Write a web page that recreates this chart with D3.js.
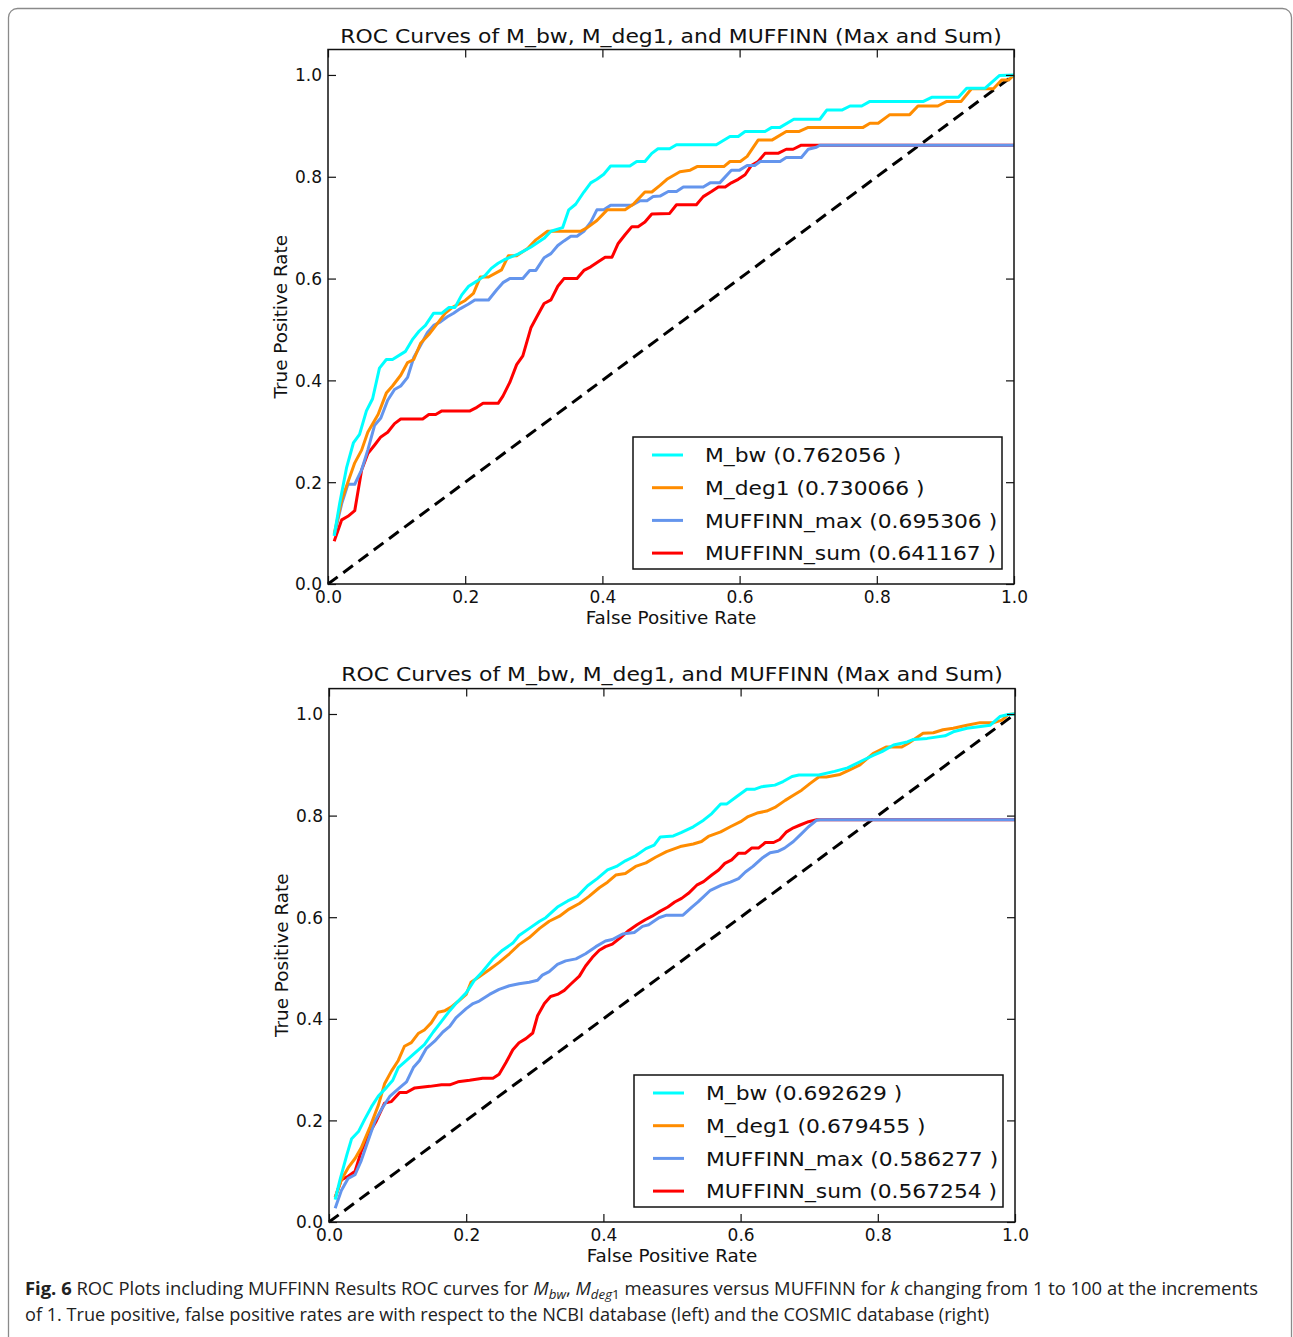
<!DOCTYPE html>
<html>
<head>
<meta charset="utf-8">
<script src="https://cdn.jsdelivr.net/npm/d3@7"></script>
<style>
  html, body { margin: 0; padding: 0; background: #fff; }
  svg { display: block; }
  .tick text { font-family: "DejaVu Sans", sans-serif; font-size: 17px; fill: #111; }
</style>
</head>
<body>
<svg id="fig" width="1293" height="1337"></svg>
<script>
(function() {

  // ---- data ----
  const tickValues = [0, 0.2, 0.4, 0.6, 0.8, 1.0]
  const seriesNames = ['M_bw', 'M_deg1', 'MUFFINN_max', 'MUFFINN_sum']
  const seriesColors = ['#00ffff', '#ff8c00', '#6495ed', '#ff0000']
  const topAuc = ['0.762056', '0.730066', '0.695306', '0.641167']
  const bottomAuc = ['0.692629', '0.679455', '0.586277', '0.567254']
  const diagonal = [[0, 0], [1, 1]]

  const topBw = [[0.009,0.095],[0.017,0.158],[0.027,0.228],[0.037,0.277],[0.046,0.294],[0.056,0.34],[0.065,0.364],[0.075,0.424],[0.085,0.441],[0.094,0.441],[0.113,0.457],[0.123,0.48],[0.133,0.497],[0.142,0.508],[0.154,0.532],[0.166,0.532],[0.176,0.543],[0.185,0.543],[0.195,0.568],[0.205,0.585],[0.217,0.595],[0.229,0.606],[0.238,0.62],[0.248,0.63],[0.257,0.637],[0.277,0.648],[0.296,0.662],[0.315,0.679],[0.325,0.693],[0.342,0.7],[0.351,0.735],[0.361,0.746],[0.373,0.77],[0.383,0.788],[0.392,0.795],[0.402,0.805],[0.412,0.821],[0.44,0.821],[0.45,0.83],[0.462,0.83],[0.472,0.846],[0.481,0.855],[0.498,0.855],[0.508,0.863],[0.566,0.863],[0.586,0.879],[0.598,0.879],[0.608,0.889],[0.637,0.889],[0.647,0.897],[0.659,0.897],[0.679,0.913],[0.717,0.913],[0.727,0.931],[0.749,0.931],[0.761,0.939],[0.778,0.939],[0.79,0.948],[0.868,0.948],[0.88,0.956],[0.919,0.956],[0.931,0.974],[0.958,0.974],[0.979,0.999],[1.0,1.0]]
  const topDeg1 = [[0.009,0.098],[0.02,0.165],[0.029,0.2],[0.039,0.238],[0.049,0.263],[0.058,0.298],[0.073,0.333],[0.085,0.375],[0.094,0.389],[0.106,0.41],[0.116,0.435],[0.125,0.441],[0.135,0.473],[0.147,0.49],[0.159,0.511],[0.171,0.532],[0.181,0.543],[0.2,0.557],[0.212,0.571],[0.222,0.603],[0.234,0.603],[0.253,0.617],[0.263,0.645],[0.275,0.645],[0.291,0.659],[0.303,0.676],[0.32,0.693],[0.368,0.693],[0.378,0.7],[0.392,0.714],[0.407,0.735],[0.433,0.735],[0.445,0.746],[0.462,0.77],[0.472,0.77],[0.484,0.783],[0.494,0.795],[0.513,0.81],[0.528,0.813],[0.538,0.82],[0.577,0.82],[0.586,0.83],[0.601,0.83],[0.611,0.84],[0.627,0.872],[0.647,0.872],[0.668,0.889],[0.687,0.889],[0.7,0.897],[0.78,0.897],[0.79,0.905],[0.802,0.905],[0.819,0.922],[0.848,0.922],[0.86,0.939],[0.889,0.939],[0.902,0.948],[0.923,0.948],[0.938,0.973],[0.97,0.973],[0.982,0.99],[0.992,0.99],[1.0,1.0]]
  const topMax = [[0.009,0.095],[0.02,0.158],[0.029,0.196],[0.039,0.196],[0.049,0.224],[0.058,0.263],[0.068,0.312],[0.077,0.326],[0.087,0.361],[0.097,0.382],[0.106,0.389],[0.116,0.406],[0.125,0.445],[0.135,0.469],[0.145,0.494],[0.154,0.508],[0.164,0.515],[0.174,0.525],[0.183,0.532],[0.193,0.541],[0.205,0.55],[0.214,0.558],[0.234,0.558],[0.246,0.578],[0.255,0.592],[0.265,0.6],[0.284,0.6],[0.294,0.616],[0.303,0.616],[0.315,0.641],[0.325,0.649],[0.335,0.665],[0.344,0.674],[0.354,0.683],[0.363,0.683],[0.373,0.693],[0.383,0.711],[0.392,0.735],[0.402,0.735],[0.412,0.744],[0.443,0.744],[0.455,0.753],[0.465,0.753],[0.474,0.761],[0.484,0.762],[0.496,0.771],[0.508,0.771],[0.518,0.78],[0.547,0.78],[0.557,0.788],[0.571,0.788],[0.588,0.813],[0.6,0.813],[0.611,0.822],[0.622,0.822],[0.63,0.83],[0.659,0.83],[0.668,0.838],[0.69,0.838],[0.7,0.854],[0.712,0.858],[0.717,0.862],[1.0,0.862]]
  const topSum = [[0.009,0.084],[0.02,0.126],[0.029,0.133],[0.039,0.144],[0.049,0.224],[0.058,0.256],[0.068,0.273],[0.077,0.289],[0.087,0.298],[0.097,0.315],[0.106,0.324],[0.138,0.324],[0.147,0.333],[0.157,0.333],[0.166,0.34],[0.207,0.34],[0.217,0.347],[0.226,0.355],[0.248,0.355],[0.255,0.369],[0.265,0.396],[0.275,0.431],[0.284,0.448],[0.296,0.504],[0.306,0.529],[0.315,0.551],[0.325,0.558],[0.335,0.585],[0.344,0.6],[0.363,0.6],[0.373,0.616],[0.383,0.623],[0.395,0.634],[0.404,0.642],[0.414,0.642],[0.423,0.669],[0.433,0.686],[0.443,0.702],[0.452,0.702],[0.462,0.711],[0.472,0.727],[0.498,0.728],[0.508,0.745],[0.537,0.745],[0.547,0.761],[0.559,0.771],[0.569,0.78],[0.579,0.78],[0.588,0.788],[0.598,0.795],[0.608,0.804],[0.617,0.822],[0.627,0.83],[0.637,0.846],[0.656,0.846],[0.668,0.854],[0.678,0.854],[0.69,0.862],[1.0,0.862]]

  const bottomBw = [[0.009,0.044],[0.016,0.083],[0.026,0.132],[0.033,0.164],[0.043,0.178],[0.052,0.202],[0.062,0.227],[0.072,0.248],[0.084,0.265],[0.093,0.279],[0.101,0.304],[0.113,0.318],[0.127,0.335],[0.139,0.349],[0.152,0.374],[0.164,0.395],[0.176,0.416],[0.185,0.43],[0.2,0.451],[0.212,0.476],[0.224,0.493],[0.239,0.518],[0.253,0.535],[0.268,0.549],[0.277,0.564],[0.292,0.578],[0.307,0.592],[0.316,0.599],[0.333,0.62],[0.348,0.632],[0.362,0.641],[0.377,0.662],[0.391,0.676],[0.406,0.693],[0.419,0.7],[0.432,0.711],[0.447,0.721],[0.462,0.735],[0.474,0.742],[0.483,0.758],[0.502,0.76],[0.514,0.767],[0.531,0.778],[0.546,0.791],[0.558,0.804],[0.571,0.823],[0.58,0.823],[0.594,0.837],[0.609,0.852],[0.621,0.852],[0.631,0.857],[0.65,0.86],[0.662,0.867],[0.675,0.877],[0.685,0.88],[0.714,0.88],[0.737,0.887],[0.756,0.894],[0.774,0.906],[0.794,0.919],[0.806,0.926],[0.823,0.939],[0.843,0.945],[0.852,0.95],[0.872,0.952],[0.898,0.957],[0.91,0.965],[0.93,0.972],[0.964,0.978],[0.978,0.995],[0.99,0.999],[1.0,1.0]]
  const bottomDeg1 = [[0.009,0.048],[0.018,0.083],[0.028,0.107],[0.038,0.125],[0.047,0.146],[0.06,0.188],[0.072,0.23],[0.081,0.272],[0.091,0.297],[0.101,0.318],[0.11,0.346],[0.12,0.353],[0.13,0.371],[0.139,0.378],[0.149,0.392],[0.159,0.413],[0.169,0.416],[0.178,0.423],[0.188,0.434],[0.2,0.448],[0.207,0.472],[0.219,0.483],[0.234,0.497],[0.248,0.511],[0.263,0.528],[0.277,0.546],[0.292,0.56],[0.307,0.578],[0.321,0.592],[0.336,0.602],[0.35,0.616],[0.365,0.627],[0.379,0.641],[0.394,0.658],[0.406,0.669],[0.418,0.683],[0.432,0.686],[0.447,0.7],[0.462,0.707],[0.476,0.718],[0.492,0.729],[0.512,0.739],[0.531,0.744],[0.543,0.749],[0.553,0.759],[0.571,0.768],[0.585,0.778],[0.6,0.788],[0.611,0.798],[0.624,0.805],[0.638,0.809],[0.65,0.816],[0.665,0.83],[0.677,0.84],[0.689,0.85],[0.701,0.863],[0.714,0.876],[0.725,0.876],[0.745,0.881],[0.759,0.89],[0.774,0.9],[0.793,0.922],[0.812,0.935],[0.835,0.935],[0.844,0.942],[0.866,0.962],[0.881,0.963],[0.895,0.969],[0.91,0.972],[0.93,0.978],[0.949,0.983],[0.969,0.983],[0.981,0.988],[0.99,0.999],[1.0,1.0]]
  const bottomMax = [[0.009,0.027],[0.018,0.062],[0.028,0.086],[0.038,0.093],[0.047,0.121],[0.057,0.16],[0.067,0.199],[0.077,0.223],[0.089,0.248],[0.101,0.262],[0.113,0.276],[0.123,0.304],[0.132,0.318],[0.142,0.342],[0.154,0.356],[0.166,0.374],[0.176,0.385],[0.185,0.402],[0.2,0.42],[0.21,0.43],[0.219,0.435],[0.234,0.448],[0.248,0.458],[0.263,0.465],[0.277,0.469],[0.292,0.472],[0.304,0.476],[0.311,0.486],[0.321,0.493],[0.333,0.507],[0.345,0.514],[0.36,0.518],[0.374,0.528],[0.389,0.542],[0.403,0.553],[0.413,0.556],[0.428,0.567],[0.445,0.57],[0.457,0.582],[0.466,0.585],[0.481,0.599],[0.492,0.604],[0.516,0.604],[0.529,0.62],[0.538,0.63],[0.556,0.653],[0.572,0.663],[0.585,0.669],[0.597,0.676],[0.607,0.689],[0.618,0.7],[0.631,0.716],[0.643,0.727],[0.655,0.73],[0.664,0.736],[0.677,0.749],[0.687,0.762],[0.699,0.778],[0.711,0.791],[0.716,0.792],[1.0,0.792]]
  const bottomSum = [[0.009,0.048],[0.018,0.083],[0.028,0.09],[0.038,0.1],[0.047,0.139],[0.057,0.171],[0.069,0.199],[0.081,0.234],[0.091,0.237],[0.103,0.255],[0.113,0.255],[0.125,0.264],[0.147,0.267],[0.164,0.27],[0.176,0.27],[0.188,0.276],[0.205,0.279],[0.224,0.283],[0.239,0.283],[0.248,0.291],[0.258,0.314],[0.268,0.339],[0.277,0.353],[0.287,0.361],[0.297,0.372],[0.304,0.406],[0.314,0.43],[0.323,0.444],[0.333,0.448],[0.343,0.456],[0.353,0.469],[0.365,0.484],[0.374,0.504],[0.384,0.521],[0.394,0.535],[0.403,0.542],[0.413,0.547],[0.425,0.56],[0.437,0.574],[0.449,0.585],[0.461,0.595],[0.471,0.602],[0.483,0.612],[0.494,0.62],[0.504,0.63],[0.514,0.637],[0.524,0.647],[0.536,0.663],[0.546,0.67],[0.558,0.683],[0.568,0.693],[0.577,0.706],[0.587,0.713],[0.597,0.726],[0.607,0.726],[0.616,0.736],[0.626,0.736],[0.636,0.747],[0.648,0.747],[0.657,0.753],[0.667,0.768],[0.677,0.776],[0.686,0.781],[0.699,0.788],[0.711,0.792],[1.0,0.792]]

  const svg = d3.select('#fig')
  const font = '"DejaVu Sans", sans-serif'

  // widen text a bit: the original matplotlib font runs wider than what we have
  function stretch(sel, k) {
    sel.each(function() {
      const w = this.getComputedTextLength()
      d3.select(this).attr('textLength', w * k).attr('lengthAdjust', 'spacingAndGlyphs')
    })
  }

  // page frame
  svg.append('rect')
    .attr('x', 8.5).attr('y', 8.5)
    .attr('width', 1283).attr('height', 1400)
    .attr('rx', 9)
    .attr('fill', 'none')
    .attr('stroke', '#8a8a8a')
    .attr('stroke-width', 1.3)

  drawPanel({ left: 328, right: 1014, bottom: 584, top: 49.5, titleY: 43,
    series: [topBw, topDeg1, topMax, topSum], auc: topAuc })
  drawPanel({ left: 329, right: 1015, bottom: 1222, top: 688.6, titleY: 681,
    series: [bottomBw, bottomDeg1, bottomMax, bottomSum], auc: bottomAuc })

  function drawPanel(p) {
    const x = d3.scaleLinear().domain([0, 1]).range([p.left, p.right])
    const y = d3.scaleLinear().domain([0, 1.05]).range([p.bottom, p.top])
    const fmt = d3.format('.1f')
    const g = svg.append('g')

    g.append('text')
      .attr('x', (p.left + p.right) / 2).attr('y', p.titleY)
      .attr('text-anchor', 'middle')
      .attr('font-family', font).attr('font-size', 20)
      .attr('fill', '#111')
      .text('ROC Curves of M_bw, M_deg1, and MUFFINN (Max and Sum)')
      .call(stretch, 1.095)

    const line = d3.line().x(d => x(d[0])).y(d => y(d[1]))

    const plot = g.append('g')
    plot.append('path')
      .attr('d', line(diagonal))
      .attr('fill', 'none')
      .attr('stroke', '#000')
      .attr('stroke-width', 3)
      .attr('stroke-dasharray', '12,7')

    // red first so the others sit on top, like the original
    const order = [3, 2, 1, 0]
    order.forEach(function(i) {
      plot.append('path')
        .attr('d', line(p.series[i]))
        .attr('fill', 'none')
        .attr('stroke', seriesColors[i])
        .attr('stroke-width', 3)
        .attr('stroke-linejoin', 'round')
    })

    // axes, matplotlib classic: ticks inside on all four sides
    const axB = g.append('g').attr('transform', 'translate(0,' + p.bottom + ')')
      .call(d3.axisBottom(x).tickValues(tickValues).tickFormat(fmt).tickSize(-8).tickPadding(7))
    const axL = g.append('g').attr('transform', 'translate(' + p.left + ',0)')
      .call(d3.axisLeft(y).tickValues(tickValues).tickFormat(fmt).tickSize(-8).tickPadding(6))
    const axT = g.append('g').attr('transform', 'translate(0,' + p.top + ')')
      .call(d3.axisTop(x).tickValues(tickValues).tickFormat('').tickSize(-8))
    const axR = g.append('g').attr('transform', 'translate(' + p.right + ',0)')
      .call(d3.axisRight(y).tickValues(tickValues).tickFormat('').tickSize(-8))
    ;[axB, axL, axT, axR].forEach(function(a) {
      a.select('.domain').remove()
      a.selectAll('.tick line').attr('stroke', '#111').attr('stroke-width', 1.2)
    })
    axL.selectAll('.tick text').attr('dy', '0.35em')

    g.append('rect')
      .attr('x', p.left).attr('y', p.top)
      .attr('width', p.right - p.left).attr('height', p.bottom - p.top)
      .attr('fill', 'none').attr('stroke', '#111').attr('stroke-width', 1.5)

    g.append('text')
      .attr('x', (p.left + p.right) / 2).attr('y', p.bottom + 40)
      .attr('text-anchor', 'middle')
      .attr('font-family', font).attr('font-size', 17).attr('fill', '#111')
      .text('False Positive Rate')
      .call(stretch, 1.08)

    const midY = (p.top + p.bottom) / 2
    g.append('text')
      .attr('transform', 'translate(' + (p.left - 41) + ',' + midY + ') rotate(-90)')
      .attr('text-anchor', 'middle')
      .attr('font-family', font).attr('font-size', 17).attr('fill', '#111')
      .text('True Positive Rate')
      .call(stretch, 1.08)

    // legend
    const lw = 369, lh = 132
    const lx = p.right - 12 - lw, ly = p.bottom - 15 - lh
    const leg = g.append('g').attr('transform', 'translate(' + lx + ',' + ly + ')')
    leg.append('rect')
      .attr('width', lw).attr('height', lh)
      .attr('fill', '#fff').attr('stroke', '#111').attr('stroke-width', 1.5)
    seriesNames.forEach(function(name, i) {
      const yy = 18 + i * 32.7
      leg.append('line')
        .attr('x1', 19).attr('x2', 50).attr('y1', yy).attr('y2', yy)
        .attr('stroke', seriesColors[i]).attr('stroke-width', 3)
      leg.append('text')
        .attr('x', 72).attr('y', yy).attr('dy', '0.36em')
        .attr('font-family', font).attr('font-size', 20).attr('fill', '#111')
        .text(name + ' (' + p.auc[i] + ' )')
        .call(stretch, 1.09)
    })
  }

  // caption
  const cap = svg.append('g')
    .attr('font-family', '"Open Sans", "Noto Sans", sans-serif')
    .attr('font-size', 18).attr('fill', '#222')
  const c1 = cap.append('text').attr('x', 25).attr('y', 1295)
    .attr('textLength', 1233).attr('lengthAdjust', 'spacingAndGlyphs')
  c1.append('tspan').attr('font-weight', 'bold').text('Fig. 6')
  c1.append('tspan').text(' ROC Plots including MUFFINN Results ROC curves for ')
  c1.append('tspan').attr('font-style', 'italic').text('M')
  c1.append('tspan').attr('font-style', 'italic').attr('font-size', 13).attr('dy', 4).text('bw')
  c1.append('tspan').attr('dy', -4).text(', ')
  c1.append('tspan').attr('font-style', 'italic').text('M')
  c1.append('tspan').attr('font-style', 'italic').attr('font-size', 13).attr('dy', 4).text('deg')
  c1.append('tspan').attr('font-size', 13).text('1')
  c1.append('tspan').attr('dy', -4).text(' measures versus MUFFINN for ')
  c1.append('tspan').attr('font-style', 'italic').text('k')
  c1.append('tspan').text(' changing from 1 to 100 at the increments')

  cap.append('text').attr('x', 25).attr('y', 1321)
    .attr('textLength', 964).attr('lengthAdjust', 'spacingAndGlyphs')
    .text('of 1. True positive, false positive rates are with respect to the NCBI database (left) and the COSMIC database (right)')

})();
</script>
</body>
</html>
